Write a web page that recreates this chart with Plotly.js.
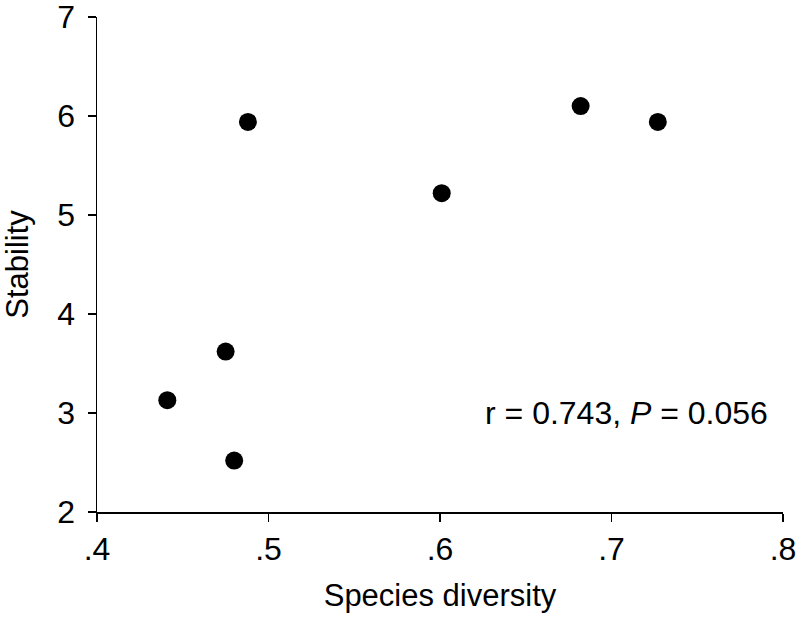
<!DOCTYPE html>
<html>
<head>
<meta charset="utf-8">
<script src="https://cdn.plot.ly/plotly-3.0.1.min.js"></script>
<style>
  body { margin: 0; background: #fff; }
  #chart { width: 800px; height: 624px; }
</style>
</head>
<body>
<div id="chart"></div>
<script>
// species diversity vs stability
const diversity = [0.441, 0.475, 0.480, 0.488, 0.601, 0.682, 0.727];
const stability = [3.13, 3.62, 2.52, 5.94, 5.22, 6.10, 5.94];

const xTickVals = [0.4, 0.5, 0.6, 0.7, 0.8];
const xTickText = [".4", ".5", ".6", ".7", ".8"];
const yTickVals = [2, 3, 4, 5, 6, 7];

const statText = "r = 0.743, <i>P</i> = 0.056";

const font = "Liberation Sans, Arial, sans-serif";

const trace = {
  x: diversity,
  y: stability,
  type: "scatter",
  mode: "markers",
  marker: { color: "#000", size: 18 },
  cliponaxis: false,
  hoverinfo: "none",
};

const layout = {
  width: 800,
  height: 624,
  margin: { l: 97, r: 17, t: 17, b: 112 },
  paper_bgcolor: "#fff",
  plot_bgcolor: "#fff",
  showlegend: false,
  font: { family: font, color: "#000", size: 32 },
  xaxis: {
    range: [0.4, 0.8],
    tickvals: xTickVals,
    ticktext: xTickText,
    showgrid: false,
    zeroline: false,
    showline: true,
    linecolor: "#000",
    linewidth: 1.5,
    ticks: "outside",
    ticklen: 8,
    tickwidth: 1.5,
    tickcolor: "#000",
    tickfont: { size: 32 },
    ticklabeloverflow: "allow",
    title: { text: "Species diversity", font: { size: 31 }, standoff: 18 },
  },
  yaxis: {
    range: [2, 7],
    tickvals: yTickVals,
    showgrid: false,
    zeroline: false,
    showline: true,
    linecolor: "#000",
    linewidth: 1.5,
    ticks: "outside",
    ticklen: 8,
    tickwidth: 1.5,
    tickcolor: "#000",
    tickfont: { size: 32 },
    ticklabelstandoff: 6,
    ticklabeloverflow: "allow",
    title: { text: "Stability", font: { size: 31 }, standoff: 19 },
  },
  annotations: [
    {
      x: 0.7085,
      y: 3.0,
      xref: "x",
      yref: "y",
      text: statText,
      showarrow: false,
      font: { size: 32 },
    },
  ],
};

Plotly.newPlot("chart", [trace], layout, { displayModeBar: false, staticPlot: true });
</script>
</body>
</html>
